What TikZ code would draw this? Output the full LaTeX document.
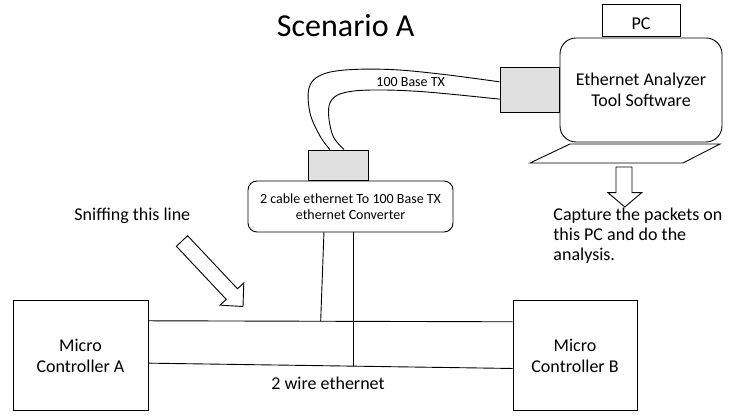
\documentclass[tikz,border=0pt]{standalone}
\usepackage{fontspec}
\setmainfont{Carlito}
\usetikzlibrary{calc}
\definecolor{portgray}{RGB}{224,224,224}
\begin{document}
\begin{tikzpicture}[x=1pt,y=-1pt,line width=0.9pt,
  box/.style={draw, rectangle, inner sep=0pt, align=center},
  rbox/.style={draw, rectangle, rounded corners=#1, inner sep=0pt, align=center},
  port/.style={draw, fill=portgray, rectangle, inner sep=0pt},
  big/.style={font=\fontsize{18}{21}\selectfont},
  small/.style={font=\fontsize{14}{16}\selectfont},
  blockarrow/.style={draw, fill=white, line join=miter}]
\useasboundingbox (0,0) rectangle (731,419);

% title
\node[font=\fontsize{32}{38}\selectfont, anchor=base, inner sep=0pt] (title) at (345.7,36.7) {Scenario A};

% controllers
\node[box,big,minimum width=135pt,minimum height=110pt] (mcA) at (80.5,355.5) {Micro\\Controller A};
\node[box,big,minimum width=124pt,minimum height=110pt] (mcB) at (575,355.5) {Micro\\Controller B};

% converter
\node[rbox=9pt,small,minimum width=205pt,minimum height=51pt] (conv) at (350.5,206.5) {2 cable ethernet To 100 Base TX\\ethernet Converter};
\node[port, minimum width=60pt, minimum height=30pt] (portC) at (338,165) {};

% PC
\node[rbox=16pt,big,minimum width=162pt,minimum height=104pt] (ana) at (641,90) {Ethernet Analyzer\\Tool Software};
\node[port, minimum width=59pt, minimum height=45pt] (portP) at (529.5,89.5) {};
\node[box, minimum width=78pt, minimum height=32pt] (pc) at (641,20) {};
\node[big, anchor=base, inner sep=0pt] (pclabel) at (641,29.5) {PC};

% keyboard
\draw (570,144) -- (720,144) -- (683,163) -- (530,163) -- cycle;

% cable 100 Base TX
\coordinate (c1a) at ($(portP.north west)!0.333!(portP.south west)$);
\coordinate (c2a) at ($(portP.north west)!0.71!(portP.south west)$);
\coordinate (c1b) at ($(portC.north west)!0.367!(portC.north east)$);
\coordinate (c2b) at ($(portC.north west)!0.6!(portC.north east)$);
\draw plot[smooth, tension=0.6] coordinates {(c1a) (440,74) (390,69.5) (345,70) (320,75.5) (309,88) (310,113) (320,136) (c1b)};
\draw plot[smooth, tension=0.6] coordinates {(c2a) (423,91.7) (373,90) (345,92.5) (332,99.5) (328.5,113) (333,136) (c2b)};
\node[small, anchor=base, inner sep=0pt] (txlabel) at (410.7,86.5) {100 Base TX};

% two wire ethernet
\coordinate (a1) at ($(mcA.north east)!0.187!(mcA.south east)$);
\coordinate (b1) at ($(mcB.north west)!0.196!(mcB.south west)$);
\coordinate (a2) at ($(mcA.north east)!0.569!(mcA.south east)$);
\coordinate (b2) at ($(mcB.north west)!0.617!(mcB.south west)$);
\draw (a1) -- (b1);
\draw (a2) -- (b2);
\coordinate (j1) at ($(a1)!0.473!(b1)$);
\coordinate (j2) at ($(a2)!0.564!(b2)$);
\coordinate (s1) at ($(conv.south west)!0.371!(conv.south east)$);
\draw (s1) -- (j1);
\draw (conv.south -| j2) -- (j2);
\node[big, anchor=base, inner sep=0pt] (wirelabel) at (328,390) {2 wire ethernet};

% sniffing
\node[big, anchor=base west, inner sep=0pt] (sniff) at (74,221) {Sniffing this line};
\draw[blockarrow] (176.4,246.3) -- (226.3,299.4) -- (220.0,305.2) -- (243,306.5) -- (243.8,282.9) -- (237.5,288.8) -- (187.6,235.7) -- cycle;

% capture
\draw[blockarrow] (616,167) -- (616,192.7) -- (608,192.7) -- (624.8,207) -- (641.7,192.7) -- (632,192.7) -- (632,167) -- cycle;
\node[font=\fontsize{18}{20}\selectfont, anchor=north west, align=left, inner sep=0pt] (capture) at (553,207.5) {Capture the packets on\\this PC and do the\\analysis.};
\end{tikzpicture}
\end{document}
